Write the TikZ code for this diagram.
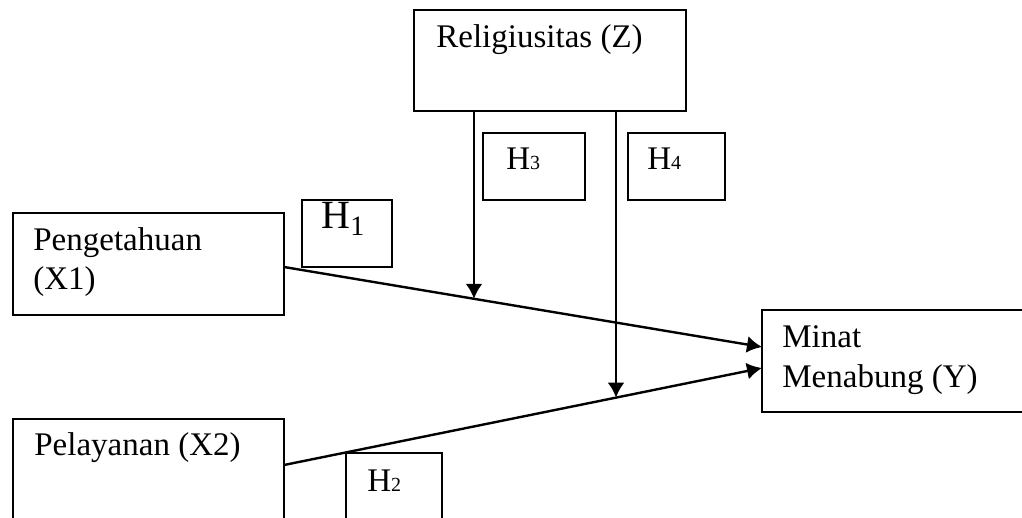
\documentclass[tikz,border=0pt]{standalone}
\usepackage{fontspec}
\setmainfont{Liberation Serif}
\usetikzlibrary{arrows.meta}
\tikzset{box/.style = {draw, line width=0.9pt, rectangle, inner sep=0, outer sep=0}}
\tikzset{txt/.style = {anchor=base west, inner sep=0, align=left,
                       font=\fontsize{16.5}{20}\selectfont}}
\tikzset{arr/.style = {line width=1.2pt, -{Latex[length=7.5pt, width=8.5pt]}}}
\newcommand{\hsub}[1]{H{\fontsize{10}{10}\selectfont #1}}

\begin{document}
\begin{tikzpicture}[x=0.5pt, y=-0.5pt]
    \clip (0, 0) rectangle (1022, 518);

    \node [box, minimum width=136pt, minimum height=50.5pt] (z) at (550, 60.5) {};
    \node [box, minimum width=51pt, minimum height=33.5pt] (h3) at (534, 166.5) {};
    \node [box, minimum width=48.5pt, minimum height=33.5pt] (h4) at (676.5, 166.5) {};
    \node [box, minimum width=135.5pt, minimum height=51pt] (x1) at (148.5, 264) {};
    \node [box, minimum width=45pt, minimum height=33.5pt] (h1) at (347, 233.5) {};
    \node [box, minimum width=135.5pt, minimum height=60.5pt] (x2) at (148.5, 479.5) {};
    \node [box, minimum width=48pt, minimum height=43.5pt] (h2) at (394, 496.5) {};
    \node [box, minimum width=139pt, minimum height=51pt] (y) at (901, 361) {};

    \node [txt] (zlab) at (436, 48) {Religiusitas (Z)};
    \node [txt] (x1lab) at (33, 290) {Pengetahuan\\(X1)};
    \node [txt] (x2lab) at (34, 455) {Pelayanan (X2)};
    \node [txt] (ylab) at (782, 387) {Minat\\Menabung (Y)};

    \node [txt, font=\fontsize{20}{20}\selectfont] (h1lab) at (321, 229) {H\textsubscript{1}};
    \node [txt] (h3lab) at (506, 170) {\hsub{3}};
    \node [txt] (h4lab) at (647, 170) {\hsub{4}};
    \node [txt] (h2lab) at (367, 491) {\hsub{2}};

    \draw [arr] ([yshift=-1.5pt]x1.east) -- coordinate [pos=0.3975] (m1) ([yshift=7pt]y.west);
    \draw [arr] ([yshift=7.25pt]x2.east) -- coordinate [pos=0.6946] (m2) ([yshift=-3.5pt]y.west);

    \draw [arr] (z.south -| m1) -- (m1);
    \draw [arr] (z.south -| m2) -- (m2);
\end{tikzpicture}
\end{document}
